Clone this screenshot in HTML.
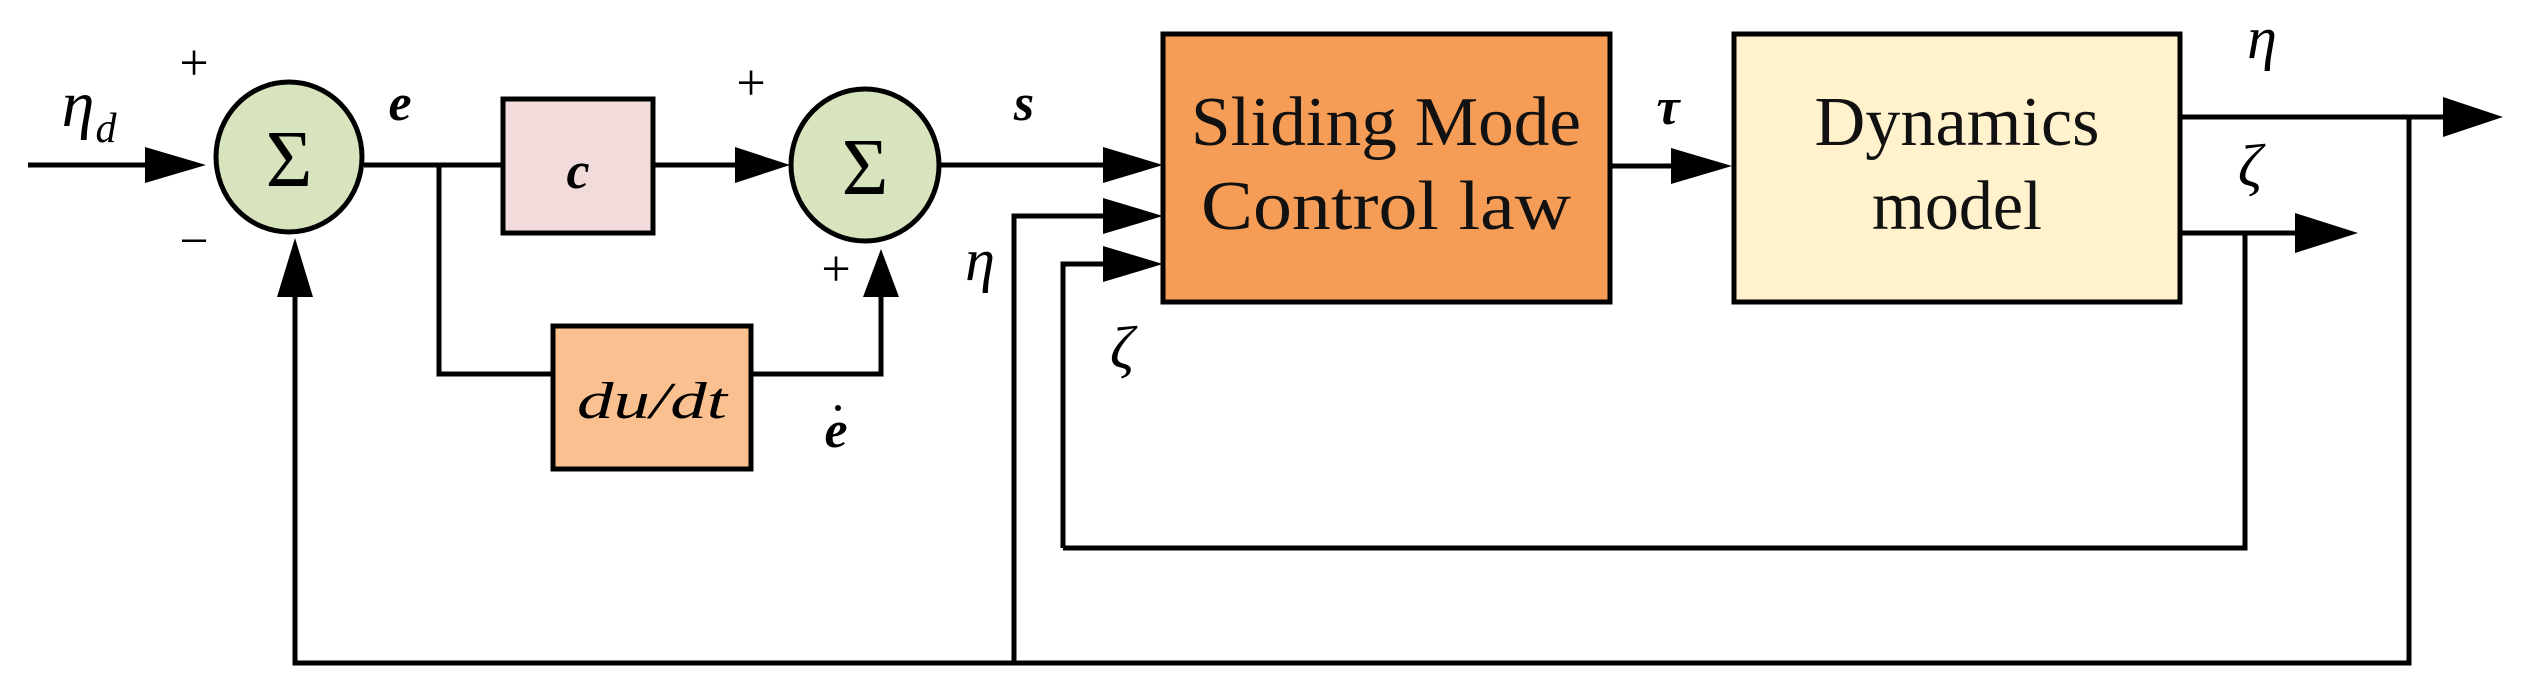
<!DOCTYPE html>
<html><head><style>body{margin:0;background:#fff}svg{display:block}</style></head><body>
<svg width="2534" height="686" viewBox="0 0 2534 686" xmlns="http://www.w3.org/2000/svg" font-family="Liberation Serif, serif">
<g stroke="#000" stroke-width="5" fill="none">
<line x1="28" y1="165" x2="160" y2="165"/>
<line x1="364" y1="165" x2="503" y2="165"/>
<polyline points="439,165 439,374 553,374"/>
<polyline points="751,374 881,374 881,285"/>
<line x1="653" y1="165" x2="745" y2="165"/>
<line x1="939" y1="165" x2="1110" y2="165"/>
<polyline points="1014,663 1014,216 1110,216"/>
<polyline points="1063,548 1063,264 1110,264"/>
<polyline points="295,290 295,663 2409,663 2409,117"/>
<line x1="1610" y1="166" x2="1680" y2="166"/>
<line x1="2180" y1="117" x2="2450" y2="117"/>
<line x1="2180" y1="233" x2="2300" y2="233"/>
<polyline points="1063,548 2245,548 2245,233"/>
</g>
<g fill="#000">
<polygon points="145,147 206,165 145,183"/>
<polygon points="735,147 790,165 735,183"/>
<polygon points="1103,147 1163,165 1103,183"/>
<polygon points="1103,198 1163,216 1103,234"/>
<polygon points="1103,246 1163,264 1103,282"/>
<polygon points="863,297 881,249 899,297"/>
<polygon points="277,297 295,238 313,297"/>
<polygon points="1671,148 1732,166 1671,184"/>
<polygon points="2443,97 2503,117 2443,137"/>
<polygon points="2295,213 2358,233 2295,253"/>
</g>
<g stroke="#000" stroke-width="5">
<ellipse cx="289" cy="157" rx="73" ry="75" fill="#d7e4bd"/>
<ellipse cx="865" cy="165" rx="74" ry="76" fill="#d7e4bd"/>
<rect x="503" y="99" width="150" height="134" fill="#f2dcdb"/>
<rect x="553" y="326" width="198" height="143" fill="#fac090"/>
<rect x="1163" y="34" width="447" height="268" fill="#f59d56"/>
<rect x="1734" y="34" width="446" height="268" fill="#fff2cc"/>
</g>
<g font-size="80" text-anchor="middle">
<text x="289" y="186">Σ</text>
<text x="865" y="194">Σ</text>
</g>
<g font-size="70" text-anchor="middle" fill="#111">
<text x="1386" y="145" textLength="390" lengthAdjust="spacingAndGlyphs">Sliding Mode</text>
<text x="1386" y="229" textLength="370" lengthAdjust="spacingAndGlyphs">Control law</text>
<text x="1957" y="145" textLength="285" lengthAdjust="spacingAndGlyphs">Dynamics</text>
<text x="1957" y="229" textLength="170" lengthAdjust="spacingAndGlyphs">model</text>
</g>
<g font-size="52" font-style="italic" text-anchor="middle">
<text x="78" y="126" font-size="66">η</text><text x="106" y="142" font-size="42">d</text>
<text x="400" y="120" font-weight="bold">e</text>
<text x="578" y="188" font-weight="bold">c</text>
<text x="652" y="418" textLength="150" lengthAdjust="spacingAndGlyphs">du/dt</text>
<text x="836" y="447" font-weight="bold">e</text>
<circle cx="838" cy="408" r="3" fill="#000"/>
<text x="1024" y="120" font-weight="bold">s</text>
<text x="980" y="280" font-size="60">η</text>
<text x="1122" y="368" font-size="60">ζ</text>
<text x="1668" y="124" font-weight="bold">τ</text>
<text x="2262" y="58" font-size="60">η</text>
<text x="2250" y="186" font-size="60">ζ</text>
</g>
<g font-size="52" text-anchor="middle">
<text x="194" y="80">+</text>
<text x="194" y="258">−</text>
<text x="751" y="100">+</text>
<text x="836" y="286">+</text>
</g>
</svg>
</body></html>
